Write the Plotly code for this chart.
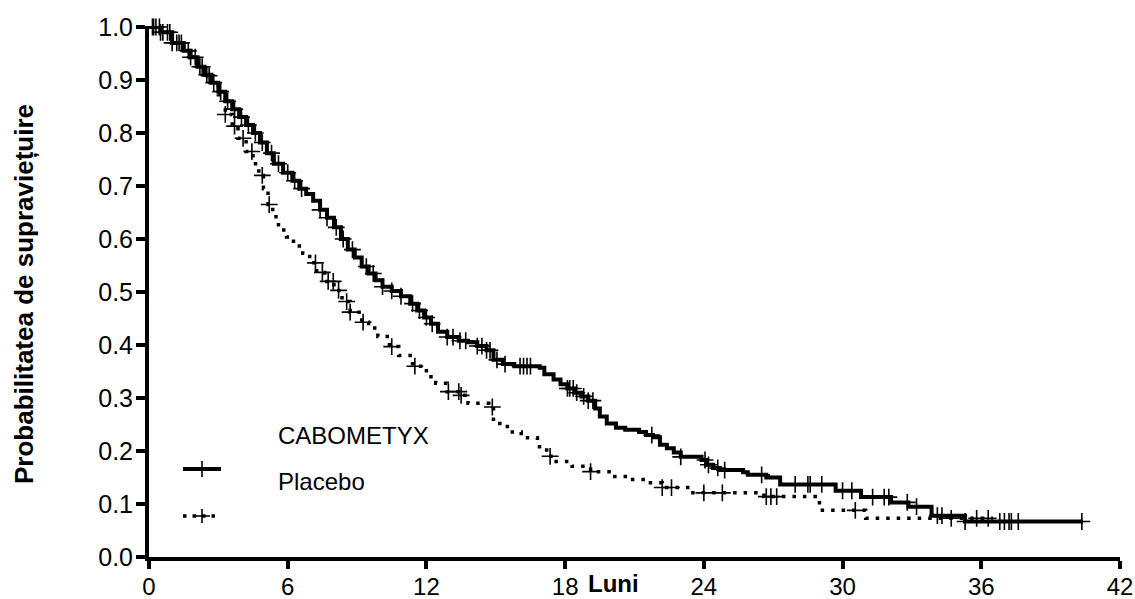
import numpy as np
import plotly.graph_objects as go

# ---------------- data ----------------
cabo_time = [0, 0.5, 1.0, 1.5, 1.8, 2.1, 2.4, 2.7, 3.0, 3.3, 3.6, 3.9, 4.2, 4.5, 4.8, 5.1,
             5.4, 5.8, 6.2, 6.5, 6.8, 7.1, 7.4, 7.7, 8.0, 8.3, 8.6, 8.9, 9.2, 9.5, 9.8,
             10.1, 10.5, 10.9, 11.3, 11.6, 11.9, 12.2, 12.5, 12.9, 13.4, 13.8, 14.2, 14.6,
             14.9, 15.3, 15.8, 16.9, 17.1, 17.5, 17.8, 18.1, 18.4, 18.7, 19.0, 19.3, 19.5,
             19.8, 20.2, 20.6, 21.2, 21.5, 21.8, 22.1, 22.4, 22.7, 23.0, 23.9, 24.1, 24.4,
             24.7, 25.7, 25.9, 26.7, 27.3, 29.7, 30.8, 32.1, 32.85, 33.85, 35.3, 40.4]
cabo_surv = [1.0, 0.99, 0.97, 0.955, 0.943, 0.925, 0.91, 0.895, 0.878, 0.86, 0.845, 0.83,
             0.815, 0.80, 0.782, 0.762, 0.742, 0.725, 0.71, 0.695, 0.685, 0.672, 0.655,
             0.64, 0.622, 0.60, 0.58, 0.565, 0.548, 0.535, 0.522, 0.51, 0.502, 0.492,
             0.478, 0.465, 0.452, 0.44, 0.425, 0.415, 0.408, 0.405, 0.398, 0.39, 0.372,
             0.364, 0.36, 0.357, 0.345, 0.335, 0.326, 0.318, 0.31, 0.303, 0.295, 0.28,
             0.265, 0.252, 0.244, 0.24, 0.236, 0.23, 0.226, 0.212, 0.205, 0.197, 0.189,
             0.183, 0.174, 0.168, 0.164, 0.16, 0.155, 0.15, 0.137, 0.125, 0.113, 0.103,
             0.095, 0.078, 0.067, 0.067]
cabo_censor = [0.15, 0.3, 0.45, 0.6, 0.8, 1.0, 1.2, 1.4, 1.7, 2.0, 2.2, 2.5, 2.8, 3.1, 3.4,
               3.7, 4.0, 4.3, 4.6, 4.9, 5.3, 5.6, 6.0, 6.3, 6.6, 7.4, 7.7, 8.1, 8.4, 8.8,
               9.4, 9.7, 10.1, 10.5, 10.9, 11.4, 11.7, 12.0, 12.25, 12.9, 13.15, 13.45,
               13.7, 14.2, 14.4, 14.6, 14.75, 15.05, 15.4, 16.05, 16.2, 16.35, 16.5, 18.1,
               18.2, 18.35, 18.5, 18.8, 19.0, 19.2, 21.75, 23.0, 24.05, 24.2, 24.6, 24.9,
               26.5, 27.95, 28.5, 28.6, 29.1, 30.0, 30.4, 31.3, 31.8, 32.0, 32.8, 33.2,
               34.1, 34.3, 35.3, 36.8, 37.0, 37.2, 37.3, 37.6, 40.35]

plac_time = [0, 0.5, 1.0, 1.5, 1.8, 2.1, 2.4, 2.7, 3.0, 3.3, 3.6, 3.85, 4.2, 4.5, 4.75,
             4.95, 5.15, 5.35, 5.6, 5.95, 6.25, 6.65, 6.95, 7.25, 7.6, 8.0, 8.35, 8.7,
             9.2, 9.5, 9.9, 10.4, 10.8, 11.4, 12.0, 12.4, 12.9, 13.5, 13.8, 14.7, 14.9,
             15.5, 16.1, 16.8, 17.2, 17.5, 18.3, 19.1, 19.9, 20.7, 21.5, 22.2, 23.4,
             26.6, 29.0, 31.0, 36.5]
plac_surv = [1.0, 0.99, 0.97, 0.955, 0.943, 0.925, 0.908, 0.892, 0.872, 0.835, 0.813,
             0.79, 0.765, 0.742, 0.72, 0.695, 0.665, 0.642, 0.617, 0.604, 0.587, 0.573,
             0.555, 0.537, 0.52, 0.503, 0.482, 0.462, 0.443, 0.432, 0.416, 0.397, 0.38,
             0.36, 0.34, 0.328, 0.312, 0.305, 0.29, 0.283, 0.252, 0.236, 0.225, 0.208,
             0.19, 0.18, 0.171, 0.161, 0.152, 0.146, 0.14, 0.131, 0.121, 0.114, 0.088,
             0.073, 0.073]
plac_censor = [0.2, 0.5, 0.9, 1.3, 1.8, 2.3, 2.6, 3.3, 3.7, 4.07, 4.45, 4.9, 5.2, 7.2,
               7.5, 7.75, 7.97, 8.2, 8.55, 8.7, 9.26, 10.5, 11.5, 12.95, 13.4, 13.5,
               14.85, 17.35, 19.1, 22.2, 22.6, 24.0, 24.8, 26.7, 26.9, 27.15, 30.55,
               34.7, 35.8, 36.3]

x_ticks = [0, 6, 12, 18, 24, 30, 36, 42]
y_ticks = [0.0, 0.1, 0.2, 0.3, 0.4, 0.5, 0.6, 0.7, 0.8, 0.9, 1.0]
y_ticklabels = ["0.0", "0.1", "0.2", "0.3", "0.4", "0.5", "0.6", "0.7", "0.8", "0.9", "1.0"]
series_names = ["CABOMETYX", "Placebo"]
x_title = "Luni"
y_title = "Probabilitatea de supraviețuire"


def step_at(times, surv, pts):
    t = np.asarray(times)
    s = np.asarray(surv)
    idx = np.searchsorted(t, np.asarray(pts), side="right") - 1
    return s[np.clip(idx, 0, len(s) - 1)]


FONT = "Arial, Liberation Sans, sans-serif"
W, H = 1135, 599
ML, MR, MT, MB = 149, 15, 27, 42
PW, PH = W - ML - MR, H - MT - MB

fig = go.Figure()

# Kaplan-Meier curves
fig.add_trace(go.Scatter(x=cabo_time, y=cabo_surv, mode="lines", line_shape="hv",
                         line=dict(color="black", width=4), name=series_names[0],
                         showlegend=False, cliponaxis=False))
fig.add_trace(go.Scatter(x=plac_time, y=plac_surv, mode="lines", line_shape="hv",
                         line=dict(color="black", width=3.5, dash="3.5px,7px"),
                         name=series_names[1], showlegend=False, cliponaxis=False))
# censor marks
fig.add_trace(go.Scatter(x=cabo_censor, y=step_at(cabo_time, cabo_surv, cabo_censor),
                         mode="markers", showlegend=False, cliponaxis=False,
                         marker=dict(symbol="cross-thin", size=12, color="black",
                                     line=dict(color="black", width=1.6))))
fig.add_trace(go.Scatter(x=plac_censor, y=step_at(plac_time, plac_surv, plac_censor),
                         mode="markers", showlegend=False, cliponaxis=False,
                         marker=dict(symbol="cross-thin", size=12, color="black",
                                     line=dict(color="black", width=1.6))))


def px(x):
    return (x - ML) / PW


def py(y):
    return (H - MB - y) / PH


shapes = []
# legend sample: CABOMETYX (solid line with +)
shapes.append(dict(type="line", xref="paper", yref="paper", x0=px(183), x1=px(221),
                   y0=py(469), y1=py(469), line=dict(color="black", width=4)))
shapes.append(dict(type="line", xref="paper", yref="paper", x0=px(202), x1=px(202),
                   y0=py(461), y1=py(477), line=dict(color="black", width=1.6)))
# legend sample: Placebo (dotted with +)
shapes.append(dict(type="line", xref="paper", yref="paper", x0=px(183), x1=px(220),
                   y0=py(516), y1=py(516), line=dict(color="black", width=3.5, dash="3.5px,6px")))
shapes.append(dict(type="line", xref="paper", yref="paper", x0=px(194), x1=px(210),
                   y0=py(516), y1=py(516), line=dict(color="black", width=1.6)))
shapes.append(dict(type="line", xref="paper", yref="paper", x0=px(202), x1=px(202),
                   y0=py(509), y1=py(523), line=dict(color="black", width=1.6)))

annotations = [
    dict(text=series_names[0], xref="paper", yref="paper", x=px(276), y=py(436),
         xanchor="left", yanchor="middle", showarrow=False,
         font=dict(family=FONT, size=24, color="black")),
    dict(text=series_names[1], xref="paper", yref="paper", x=px(276), y=py(481),
         xanchor="left", yanchor="middle", showarrow=False,
         font=dict(family=FONT, size=24, color="black")),
    dict(text="<b>" + x_title + "</b>", xref="paper", yref="paper", x=px(613), y=py(583),
         xanchor="center", yanchor="middle", showarrow=False,
         font=dict(family=FONT, size=24, color="black")),
    dict(text="<b>" + y_title + "</b>", xref="paper", yref="paper", x=px(24), y=py(294),
         xanchor="center", yanchor="middle", textangle=-90, showarrow=False,
         font=dict(family=FONT, size=26, color="black")),
]

fig.update_layout(
    width=W, height=H,
    margin=dict(l=ML, r=MR, t=MT, b=MB, autoexpand=False),
    paper_bgcolor="white", plot_bgcolor="white",
    shapes=shapes, annotations=annotations,
    font=dict(family=FONT, color="black"),
    xaxis=dict(range=[0, 42], tickvals=x_ticks, showgrid=False, zeroline=False,
               showline=True, linecolor="black", linewidth=4,
               ticks="outside", ticklen=8, tickwidth=4, tickcolor="black",
               ticklabelstandoff=-3,
               tickfont=dict(family=FONT, size=24, color="black")),
    yaxis=dict(range=[0, 1.0], tickvals=y_ticks, ticktext=y_ticklabels, showgrid=False,
               zeroline=False, showline=True, linecolor="black", linewidth=4,
               ticks="outside", ticklen=9, tickwidth=4, tickcolor="black",
               ticklabelstandoff=-2,
               tickfont=dict(family=FONT, size=25, color="black")),
)

fig.write_html("out.html")
